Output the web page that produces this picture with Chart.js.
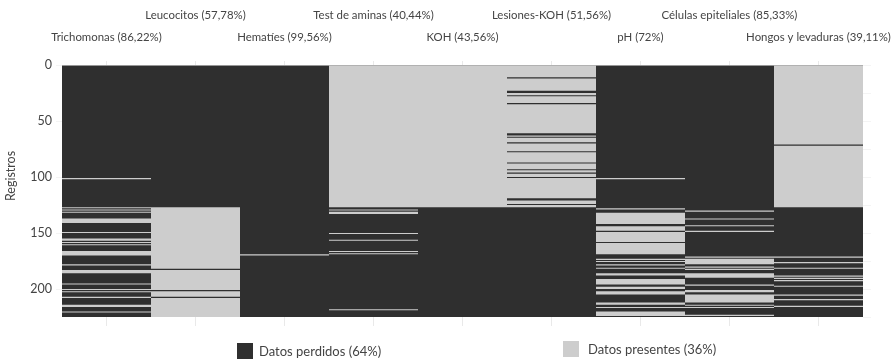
<!DOCTYPE html>
<html lang="es">
<head>
    <meta charset="UTF-8">
    <title>Matriz de datos perdidos</title>
    <script src="https://cdn.jsdelivr.net/npm/chart.js"></script>
    <style>
        html, body { margin: 0; background: #fff; }
        #wrap { position: relative; width: 891px; height: 360px; overflow: hidden; font-family: Lato, sans-serif; color: #444; }
        #grafico { display: block; filter: blur(0.6px); }
        .leyenda { position: absolute; display: flex; align-items: center; font-size: 13px; height: 16px; }
        .leyenda i { display: block; width: 16px; height: 16px; margin-right: 6px; }
    </style>
</head>
<body>
<div id="wrap">
    <canvas id="grafico" width="891" height="360"></canvas>
    <div class="leyenda" style="left:237px;top:343px"><i id="cajaPerdidos"></i><span id="txtPerdidos"></span></div>
    <div class="leyenda" style="left:563px;top:341px"><i id="cajaPresentes" style="margin-right:9px"></i><span id="txtPresentes"></span></div>
</div>
<script>
// Columnas de la matriz
const columnas = ['Trichomonas (86,22%)', 'Leucocitos (57,78%)', 'Hematíes (99,56%)', 'Test de aminas (40,44%)',
    'KOH (43,56%)', 'Lesiones-KOH (51,56%)', 'pH (72%)', 'Células epiteliales (85,33%)', 'Hongos y levaduras (39,11%)'];
const totalRegistros = 225;
const marcasY = [0, 50, 100, 150, 200];
const etiquetaY = 'Registros';
const etiquetaPerdidos = 'Datos perdidos (64%)';
const etiquetaPresentes = 'Datos presentes (36%)';

// Tramos de registros con dato presente [desde, hasta) por columna
const trichomonas = [[101,102],[127,128],[129,130],[131,132],[137,141],[149,150],[155,157],[158,159],[160,161],[166,170],
    [178,179],[183,186],[195,196],[200,201],[202,203],[207,208],[214,216],[220,221]];
const leucocitos = [[127,182],[183,201],[202,207],[208,225]];
const hematies = [[169,170]];
const testAminas = [[0,127],[129,130],[131,133],[150,151],[156,157],[166,167],[168,169],[218,219]];
const koh = [[0,127]];
const lesionesKoh = [[0,11],[12,23],[25,27],[28,34],[35,61],[63,64],[65,69],[70,77],[78,87],[88,93],[94,96],[97,100],
    [101,119],[121,124],[125,127]];
const ph = [[101,102],[128,129],[132,142],[144,148],[149,158],[159,169],[173,174],[175,176],[178,179],[181,182],[186,188],
    [191,196],[198,200],[202,205],[212,214],[216,217],[220,224]];
const celulasEpiteliales = [[130,131],[137,138],[143,144],[148,149],[171,172],[173,178],[180,181],[182,183],[186,190],
    [196,197],[201,203],[205,212],[214,215],[216,217],[223,224]];
const hongosLevaduras = [[0,71],[72,127],[171,172],[176,177],[181,182],[188,189],[190,191],[192,193],[197,198],[205,206],
    [209,210],[215,216]];

const tramos = [trichomonas, leucocitos, hematies, testAminas, koh, lesionesKoh, ph, celulasEpiteliales, hongosLevaduras];
const colorPerdidos = '#2f2f2f';
const colorPresentes = '#cdcdcd';
const colorTexto = '#444444';
const colorMarca = '#e9e9e9';

// Fondo oscuro y encima un dataset por cada tramo presente
const datasets = [{
    label: etiquetaPerdidos,
    data: columnas.map(() => [0, totalRegistros]),
    backgroundColor: colorPerdidos,
    order: 2
}];
const maxTramos = Math.max(...tramos.map(t => t.length));
for (let i = 0; i < maxTramos; i++) {
    datasets.push({
        label: etiquetaPresentes,
        data: tramos.map(t => t[i] || null),
        backgroundColor: colorPresentes,
        order: 1
    });
}

// Etiquetas alternadas en dos alturas
const etiquetasX = columnas.map((c, i) => i % 2 === 1 ? [c, ''] : ['', c]);

document.getElementById('cajaPerdidos').style.background = colorPerdidos;
document.getElementById('cajaPresentes').style.background = colorPresentes;
document.getElementById('txtPerdidos').textContent = etiquetaPerdidos;
document.getElementById('txtPresentes').textContent = etiquetaPresentes;

// Titulo del eje Y, algo por encima del centro como en el original
const tituloY = {
    id: 'tituloY',
    afterDraw(chart) {
        const ctx = chart.ctx;
        ctx.save();
        ctx.translate(11, 176);
        ctx.rotate(-Math.PI / 2);
        ctx.textAlign = 'center';
        ctx.textBaseline = 'middle';
        ctx.font = '12.5px Lato';
        ctx.fillStyle = colorTexto;
        ctx.fillText(etiquetaY, 0, 0);
        ctx.restore();
    }
};

new Chart(document.getElementById('grafico').getContext('2d'), {
    type: 'bar',
    data: { labels: etiquetasX, datasets: datasets },
    plugins: [tituloY],
    options: {
        responsive: false,
        animation: false,
        layout: { padding: { left: 0, right: 20, top: 0, bottom: 31 } },
        datasets: { bar: { grouped: false, barPercentage: 1, categoryPercentage: 1, borderWidth: 0, inflateAmount: 0 } },
        plugins: { legend: { display: false }, tooltip: { enabled: false } },
        scales: {
            x: {
                position: 'top',
                offset: true,
                border: { display: false },
                grid: { offset: false, drawOnChartArea: false, color: colorMarca, tickLength: 4 },
                ticks: { autoSkip: false, maxRotation: 0, padding: 13, color: colorTexto,
                    font: { family: 'Lato', size: 11.4, lineHeight: 1.93 } },
                afterFit(s) { s.height = 65; s.paddingLeft = 0; s.paddingRight = 0; }
            },
            xInf: {
                type: 'category',
                labels: etiquetasX,
                position: 'bottom',
                offset: true,
                border: { display: false },
                grid: { offset: false, drawOnChartArea: false, color: colorMarca, tickLength: 9 },
                ticks: { display: false },
                afterFit(s) { s.height = 12; s.paddingLeft = 0; s.paddingRight = 0; }
            },
            y: {
                reverse: true,
                min: 0,
                max: totalRegistros,
                border: { display: false },
                grid: { drawOnChartArea: false, color: '#f4f4f4', tickLength: 6 },
                afterBuildTicks(s) { s.ticks = marcasY.map(v => ({ value: v })); },
                ticks: { padding: 4, color: colorTexto, font: { family: 'Lato', size: 12.5 } },
                afterFit(s) { s.width = 62; }
            },
            yDer: {
                position: 'right',
                reverse: true,
                min: 0,
                max: totalRegistros,
                border: { display: false },
                grid: { drawOnChartArea: false, color: '#f4f4f4', tickLength: 8 },
                ticks: { display: false, stepSize: 25 },
                afterFit(s) { s.width = 8; }
            }
        }
    }
});
</script>
</body>
</html>
